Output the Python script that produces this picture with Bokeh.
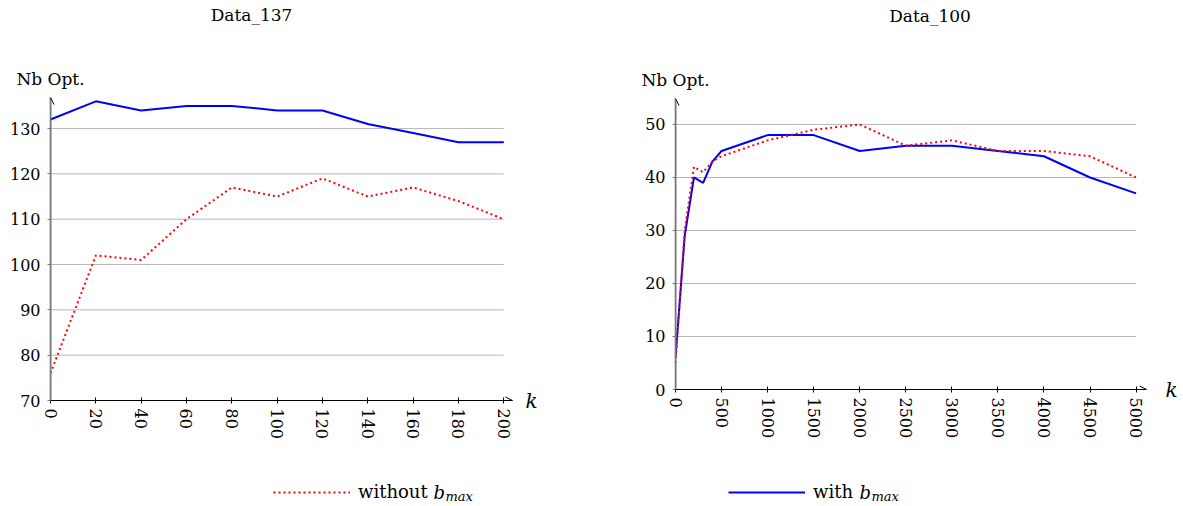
import math
from bokeh.plotting import figure
from bokeh.layouts import row, column
from bokeh.models import (FixedTicker, Arrow, OpenHead, Legend, LegendItem,
                          Range1d, LinearAxis, Label)
from bokeh.embed import file_html
from bokeh.resources import INLINE

# ---------------- data ----------------
k137 = [0, 20, 40, 60, 80, 100, 120, 140, 160, 180, 200]
with137 = [132, 136, 134, 135, 135, 134, 134, 131, 129, 127, 127]
without137 = [76, 102, 101, 110, 117, 115, 119, 115, 117, 114, 110]

k100 = [0, 100, 200, 300, 400, 500, 1000, 1500, 2000, 2500, 3000, 3500, 4000, 4500, 5000]
with100 = [6, 29, 40, 39, 43, 45, 48, 48, 45, 46, 46, 45, 44, 40, 37]
without100 = [5, 30, 42, 41, 43, 44, 47, 49, 50, 46, 47, 45, 45, 44, 40]

xticks137 = [0, 20, 40, 60, 80, 100, 120, 140, 160, 180, 200]
yticks137 = [70, 80, 90, 100, 110, 120, 130]
xticks100 = [0, 500, 1000, 1500, 2000, 2500, 3000, 3500, 4000, 4500, 5000]
yticks100 = [0, 10, 20, 30, 40, 50]

titles = ["Data_137", "Data_100"]
ylabel = "Nb Opt."
xlabel = "k"
legend_without = "without"
legend_with = "with"
sym_b = "b"
sym_max = "max"

FONT = "DejaVu Serif"
RED = "#ff0000"
BLUE = "#0000ff"
RED_DASH = "2 3"


def name_axis(tick, text, standoff, size, style="normal"):
    return LinearAxis(ticker=FixedTicker(ticks=[tick]),
                      major_label_overrides={tick: text},
                      axis_line_color=None, major_tick_line_color=None,
                      major_tick_in=0, major_tick_out=0,
                      minor_tick_line_color=None, major_label_standoff=standoff,
                      major_label_text_font=FONT, major_label_text_font_size=size,
                      major_label_text_font_style=style,
                      major_label_text_color="black")


def make_panel(xs, ys_with, ys_without, xticks, yticks, y_end, x_end,
               title, title_x, width, height, bl, br, bt, bb, k_standoff):
    p = figure(width=width, height=height, output_backend="svg",
               toolbar_location=None, title=None,
               x_range=Range1d(xticks[0], x_end), y_range=Range1d(yticks[0], y_end),
               min_border_left=bl, min_border_right=br,
               min_border_top=bt, min_border_bottom=bb)
    p.frame_align = False
    p.outline_line_color = None
    p.background_fill_color = "white"
    p.border_fill_color = "white"
    p.xgrid.visible = False
    p.ygrid.visible = False

    # horizontal grid lines spanning the tick extent
    p.segment(x0=[xticks[0]] * len(yticks), x1=[xticks[-1]] * len(yticks),
              y0=yticks, y1=yticks, line_color="#b8b8b8", line_width=1)

    xa = p.xaxis[0]
    ya = p.yaxis[0]
    xa.ticker = FixedTicker(ticks=xticks)
    ya.ticker = FixedTicker(ticks=yticks)
    xa.major_label_orientation = -math.pi / 2
    for ax in (xa, ya):
        ax.major_label_text_font = FONT
        ax.major_label_text_font_size = "16px"
        ax.major_label_text_color = "black"
        ax.minor_tick_line_color = None
    xa.axis_line_color = "black"
    xa.major_tick_line_color = "black"
    xa.major_tick_in = 3
    xa.major_tick_out = 3
    xa.major_label_standoff = 5
    ya.axis_line_color = "#777777"
    ya.axis_line_width = 1.6
    ya.major_tick_line_color = "#777777"
    ya.major_tick_in = 0
    ya.major_tick_out = 3
    ya.major_label_standoff = 7

    # y-axis name just above the axis, chart title further up
    p.add_layout(name_axis(xticks[0], ylabel, 9, "17px"), "above")
    p.add_layout(name_axis(title_x, title, 41, "17px"), "above")
    # x-axis name at the end of the axis
    p.add_layout(name_axis(yticks[0], xlabel, k_standoff, "20px", "italic"), "right")

    p.line(xs, ys_with, line_color=BLUE, line_width=2)
    p.line(xs, ys_without, line_color=RED, line_width=2, line_dash=RED_DASH)

    # axis arrow heads
    p.add_layout(Arrow(x_start=xticks[0], y_start=yticks[0], x_end=x_end,
                       y_end=yticks[0], line_color="black", line_width=1,
                       end=OpenHead(size=7, line_color="black", line_width=1)))
    p.add_layout(Arrow(x_start=xticks[0], y_start=yticks[0], x_end=xticks[0],
                       y_end=y_end, line_color="#777777", line_width=1.6,
                       end=OpenHead(size=7, line_color="black", line_width=1)))
    return p


H_MAIN = 466
left = make_panel(k137, with137, without137, xticks137, yticks137,
                  136.85, 203.84, titles[0], 88.7,
                  width=595, height=H_MAIN, bl=50, br=83, bt=97, bb=H_MAIN - 400,
                  k_standoff=13)

right = make_panel(k100, with100, without100, xticks100, yticks100,
                   54.9, 5113, titles[1], 2763,
                   width=585, height=H_MAIN, bl=80, br=22, bt=98, bb=H_MAIN - 389,
                   k_standoff=19)

# ---------------- legend strip ----------------
lg = figure(width=1180, height=40, output_backend="svg", toolbar_location=None,
            x_range=Range1d(0, 1180), y_range=Range1d(0, 40),
            x_axis_type=None, y_axis_type=None,
            min_border_left=0, min_border_right=0, min_border_top=0,
            min_border_bottom=0)
lg.outline_line_color = None
lg.xgrid.visible = False
lg.ygrid.visible = False
# legend samples (series drawn outside the strip's visible range)
r_wo = lg.line(k137, without137, line_color=RED, line_width=2, line_dash=RED_DASH)
r_w = lg.line(k137, with137, line_color=BLUE, line_width=2)


def strip_legend(rend, text, loc):
    return Legend(items=[LegendItem(label=text, renderers=[rend])],
                  location=loc, orientation="horizontal",
                  glyph_width=77, glyph_height=20, label_standoff=8,
                  padding=0, margin=0, border_line_alpha=0,
                  background_fill_alpha=0, label_text_font=FONT,
                  label_text_color="black",
                  label_text_font_size="18px", label_height=20)


lg.add_layout(strip_legend(r_wo, legend_without, (273, 4)))
lg.add_layout(strip_legend(r_w, legend_with, (728, 4)))
for bx, txt, yy, fs in [(433, sym_b, 14, "18px"), (445, sym_max, 10, "13px"),
                        (859, sym_b, 14, "18px"), (871, sym_max, 10, "13px")]:
    lg.add_layout(Label(x=bx, y=yy, text=txt, text_font=FONT,
                        text_font_style="italic", text_font_size=fs,
                        text_baseline="middle", text_color="black"))

layout = column(row(left, right), lg)
open("out.html", "w").write(file_html(layout, INLINE))
